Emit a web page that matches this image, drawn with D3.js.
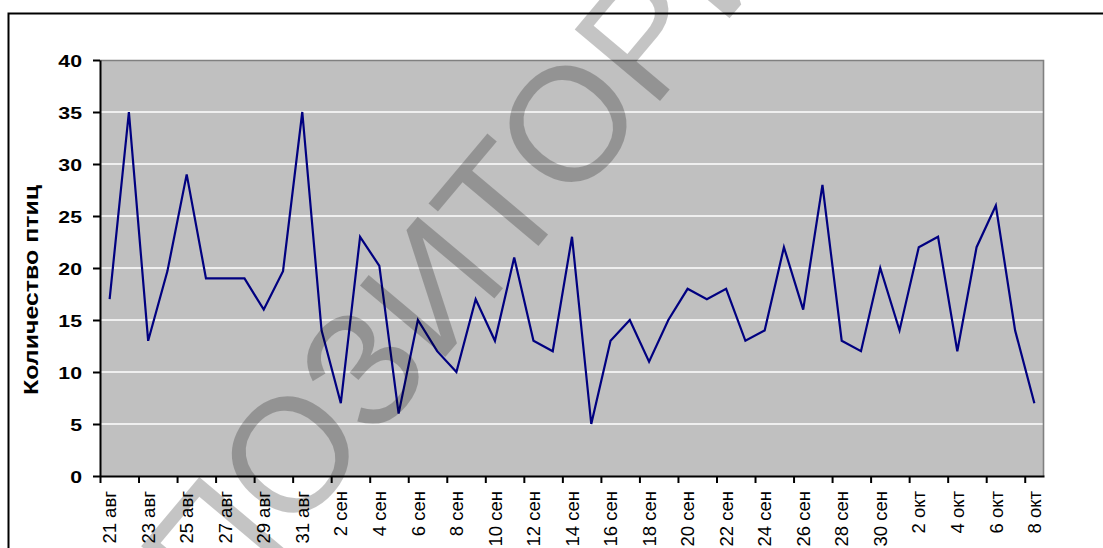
<!DOCTYPE html>
<html>
<head>
<meta charset="utf-8">
<script src="https://cdn.jsdelivr.net/npm/d3@7"></script>
<style>
  html, body { margin: 0; padding: 0; background: #ffffff; }
  svg { display: block; font-family: Arial, "Liberation Sans", sans-serif; }
</style>
</head>
<body>
<svg id="chart" width="1103" height="548"></svg>
<script>
// Daily counts of birds, 21 Aug – 8 Oct
const categories = [
  "21 авг","22 авг","23 авг","24 авг","25 авг","26 авг","27 авг","28 авг","29 авг","30 авг","31 авг",
  "1 сен","2 сен","3 сен","4 сен","5 сен","6 сен","7 сен","8 сен","9 сен","10 сен",
  "11 сен","12 сен","13 сен","14 сен","15 сен","16 сен","17 сен","18 сен","19 сен","20 сен",
  "21 сен","22 сен","23 сен","24 сен","25 сен","26 сен","27 сен","28 сен","29 сен","30 сен",
  "1 окт","2 окт","3 окт","4 окт","5 окт","6 окт","7 окт","8 окт"
];
const birdCounts = [
  17, 35, 13, 19.7, 29, 19, 19, 19, 16, 19.7, 35,
  14, 7, 23, 20.2, 6, 15, 12, 10, 17, 13,
  21, 13, 12, 23, 5, 13, 15, 11, 15, 18,
  17, 18, 13, 14, 22, 16, 28, 13, 12, 20,
  14, 22, 23, 12, 22, 26, 14, 7
];
const xTickLabels = [
  "21 авг","23 авг","25 авг","27 авг","29 авг","31 авг",
  "2 сен","4 сен","6 сен","8 сен","10 сен","12 сен","14 сен","16 сен","18 сен",
  "20 сен","22 сен","24 сен","26 сен","28 сен","30 сен",
  "2 окт","4 окт","6 окт","8 окт"
];
const yTicks = [0, 5, 10, 15, 20, 25, 30, 35, 40];
const yTitle = "Количество птиц";
const stamp = "ПОЗИТОРИЙ";

const svg = d3.select("#chart");
const plot = { left: 100, right: 1044, top: 60, bottom: 476 };

const x = d3.scaleBand().domain(categories).range([plot.left, plot.right]).padding(0);
const xIdx = d3.scaleLinear().domain([0, categories.length]).range([plot.left, plot.right]);
const y = d3.scaleLinear().domain([0, 40]).range([plot.bottom, plot.top]);

// outer chart frame
svg.append("path")
  .attr("d", "M8.5,548 V13.5 H1103")
  .attr("fill", "none").attr("stroke", "#000").attr("stroke-width", 2);

// plot background
svg.append("rect")
  .attr("x", plot.left).attr("y", plot.top)
  .attr("width", plot.right - plot.left).attr("height", plot.bottom - plot.top)
  .attr("fill", "#c0c0c0");

// horizontal gridlines
svg.append("g").selectAll("line")
  .data(yTicks.filter(v => v > 0 && v < 40))
  .join("line")
  .attr("x1", plot.left).attr("x2", plot.right)
  .attr("y1", d => y(d)).attr("y2", d => y(d))
  .attr("stroke", "#ffffff").attr("stroke-width", 1.6);

// plot border (top and right in grey)
svg.append("path")
  .attr("d", `M${plot.left},${plot.top + 0.5} H${plot.right - 0.5} V${plot.bottom}`)
  .attr("fill", "none").attr("stroke", "#808080").attr("stroke-width", 1.6);

// data line
const line = d3.line()
  .x((d, i) => x(categories[i]) + x.bandwidth() / 2)
  .y(d => y(d));
svg.append("path")
  .datum(birdCounts)
  .attr("d", line)
  .attr("fill", "none")
  .attr("stroke", "#000080")
  .attr("stroke-width", 2.2)
  .attr("stroke-linejoin", "miter");

// y axis
const yAxis = svg.append("g")
  .attr("transform", `translate(${plot.left},0)`)
  .call(d3.axisLeft(y).tickValues(yTicks).tickSize(7).tickSizeOuter(0).tickPadding(0));
yAxis.select(".domain").attr("stroke", "#000").attr("stroke-width", 2);
yAxis.selectAll(".tick line").attr("stroke", "#000").attr("stroke-width", 2);
yAxis.selectAll(".tick text")
  .attr("x", 0)
  .attr("dy", "0.36em")
  .attr("transform", "translate(-18,0) scale(1.25,1)")
  .attr("fill", "#000")
  .style("font-family", "Arial, 'Liberation Sans', sans-serif")
  .style("font-size", "17px")
  .style("font-weight", "bold");

// x axis: tick marks between every second category
const xTickAxis = svg.append("g")
  .attr("transform", `translate(0,${plot.bottom})`)
  .call(d3.axisBottom(xIdx)
    .tickValues(d3.range(0, categories.length, 2))
    .tickSize(7).tickSizeOuter(0).tickFormat(""));
xTickAxis.select(".domain").attr("stroke", "#000").attr("stroke-width", 2);
xTickAxis.selectAll(".tick line").attr("stroke", "#000").attr("stroke-width", 2);

// x axis: rotated date labels centred on their categories
const xLabelAxis = svg.append("g")
  .attr("transform", `translate(0,${plot.bottom})`)
  .call(d3.axisBottom(x).tickValues(xTickLabels).tickSize(0).tickSizeOuter(0));
xLabelAxis.select(".domain").remove();
xLabelAxis.selectAll(".tick text")
  .attr("x", -15)
  .attr("y", 0)
  .attr("dy", "0.36em")
  .attr("transform", "rotate(-90)")
  .style("text-anchor", "end")
  .attr("fill", "#000")
  .style("font-family", "Arial, 'Liberation Sans', sans-serif")
  .style("font-size", "18.5px");

// y axis title
svg.append("text")
  .attr("transform", "translate(31,290) rotate(-90)")
  .attr("text-anchor", "middle")
  .attr("dominant-baseline", "central")
  .attr("textLength", 210)
  .attr("lengthAdjust", "spacingAndGlyphs")
  .style("font-family", "Arial, 'Liberation Sans', sans-serif")
  .style("font-size", "20px")
  .style("font-weight", "bold")
  .attr("fill", "#000")
  .text(yTitle);

// diagonal stamp across the chart
svg.append("text")
  .attr("transform", "translate(218,628) rotate(-50)")
  .style("font-family", "Arial, 'Liberation Sans', sans-serif")
  .style("font-size", "162px")
  .attr("fill", "#000")
  .attr("fill-opacity", 0.23)
  .text(stamp);
</script>
</body>
</html>
